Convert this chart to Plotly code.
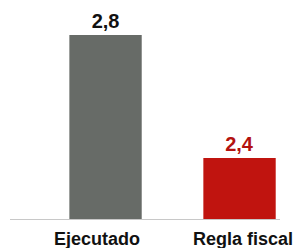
import plotly.graph_objects as go

categories = ["Ejecutado", "Regla fiscal"]
values = [2.8, 2.4]
bar_colors = ["#676b67", "#c0140f"]
label_colors = ["#111111", "#b3120f"]

FONT = "Liberation Sans, Arial, sans-serif"

fig = go.Figure(
    go.Bar(
        x=[0, 1],
        y=values,
        width=0.54,
        marker=dict(color=bar_colors, line=dict(width=0)),
        texttemplate="<b>%{y:.1f}</b>",
        textposition="outside",
        textfont=dict(family=FONT, size=20, color=label_colors),
        cliponaxis=False,
        hoverinfo="skip",
    )
)

label_shift = [-9, 3]
for i, c in enumerate(categories):
    fig.add_annotation(
        x=i, xref="x", y=0, yref="paper",
        text="<b>" + c + "</b>",
        showarrow=False,
        xanchor="center", yanchor="top",
        xshift=label_shift[i], yshift=-8,
        font=dict(family=FONT, size=18, color="#111111"),
    )

fig.update_layout(
    width=295,
    height=248,
    margin=dict(l=10, r=15, t=0, b=29),
    paper_bgcolor="white",
    plot_bgcolor="white",
    separators=",.",
    showlegend=False,
    xaxis=dict(
        tickvals=[0, 1],
        showticklabels=False,
        range=[-0.713, 1.302],
        showline=True,
        linecolor="#c8c8c8",
        linewidth=1,
        showgrid=False,
        zeroline=False,
        ticks="",
        automargin=False,
    ),
    yaxis=dict(
        range=[2.2016, 2.914],
        visible=False,
        showgrid=False,
        zeroline=False,
        automargin=False,
    ),
)

fig.write_html(
    "out.html",
    config={"displayModeBar": False},
    post_script="document.body.style.margin='0';document.body.style.overflow='hidden';",
)
